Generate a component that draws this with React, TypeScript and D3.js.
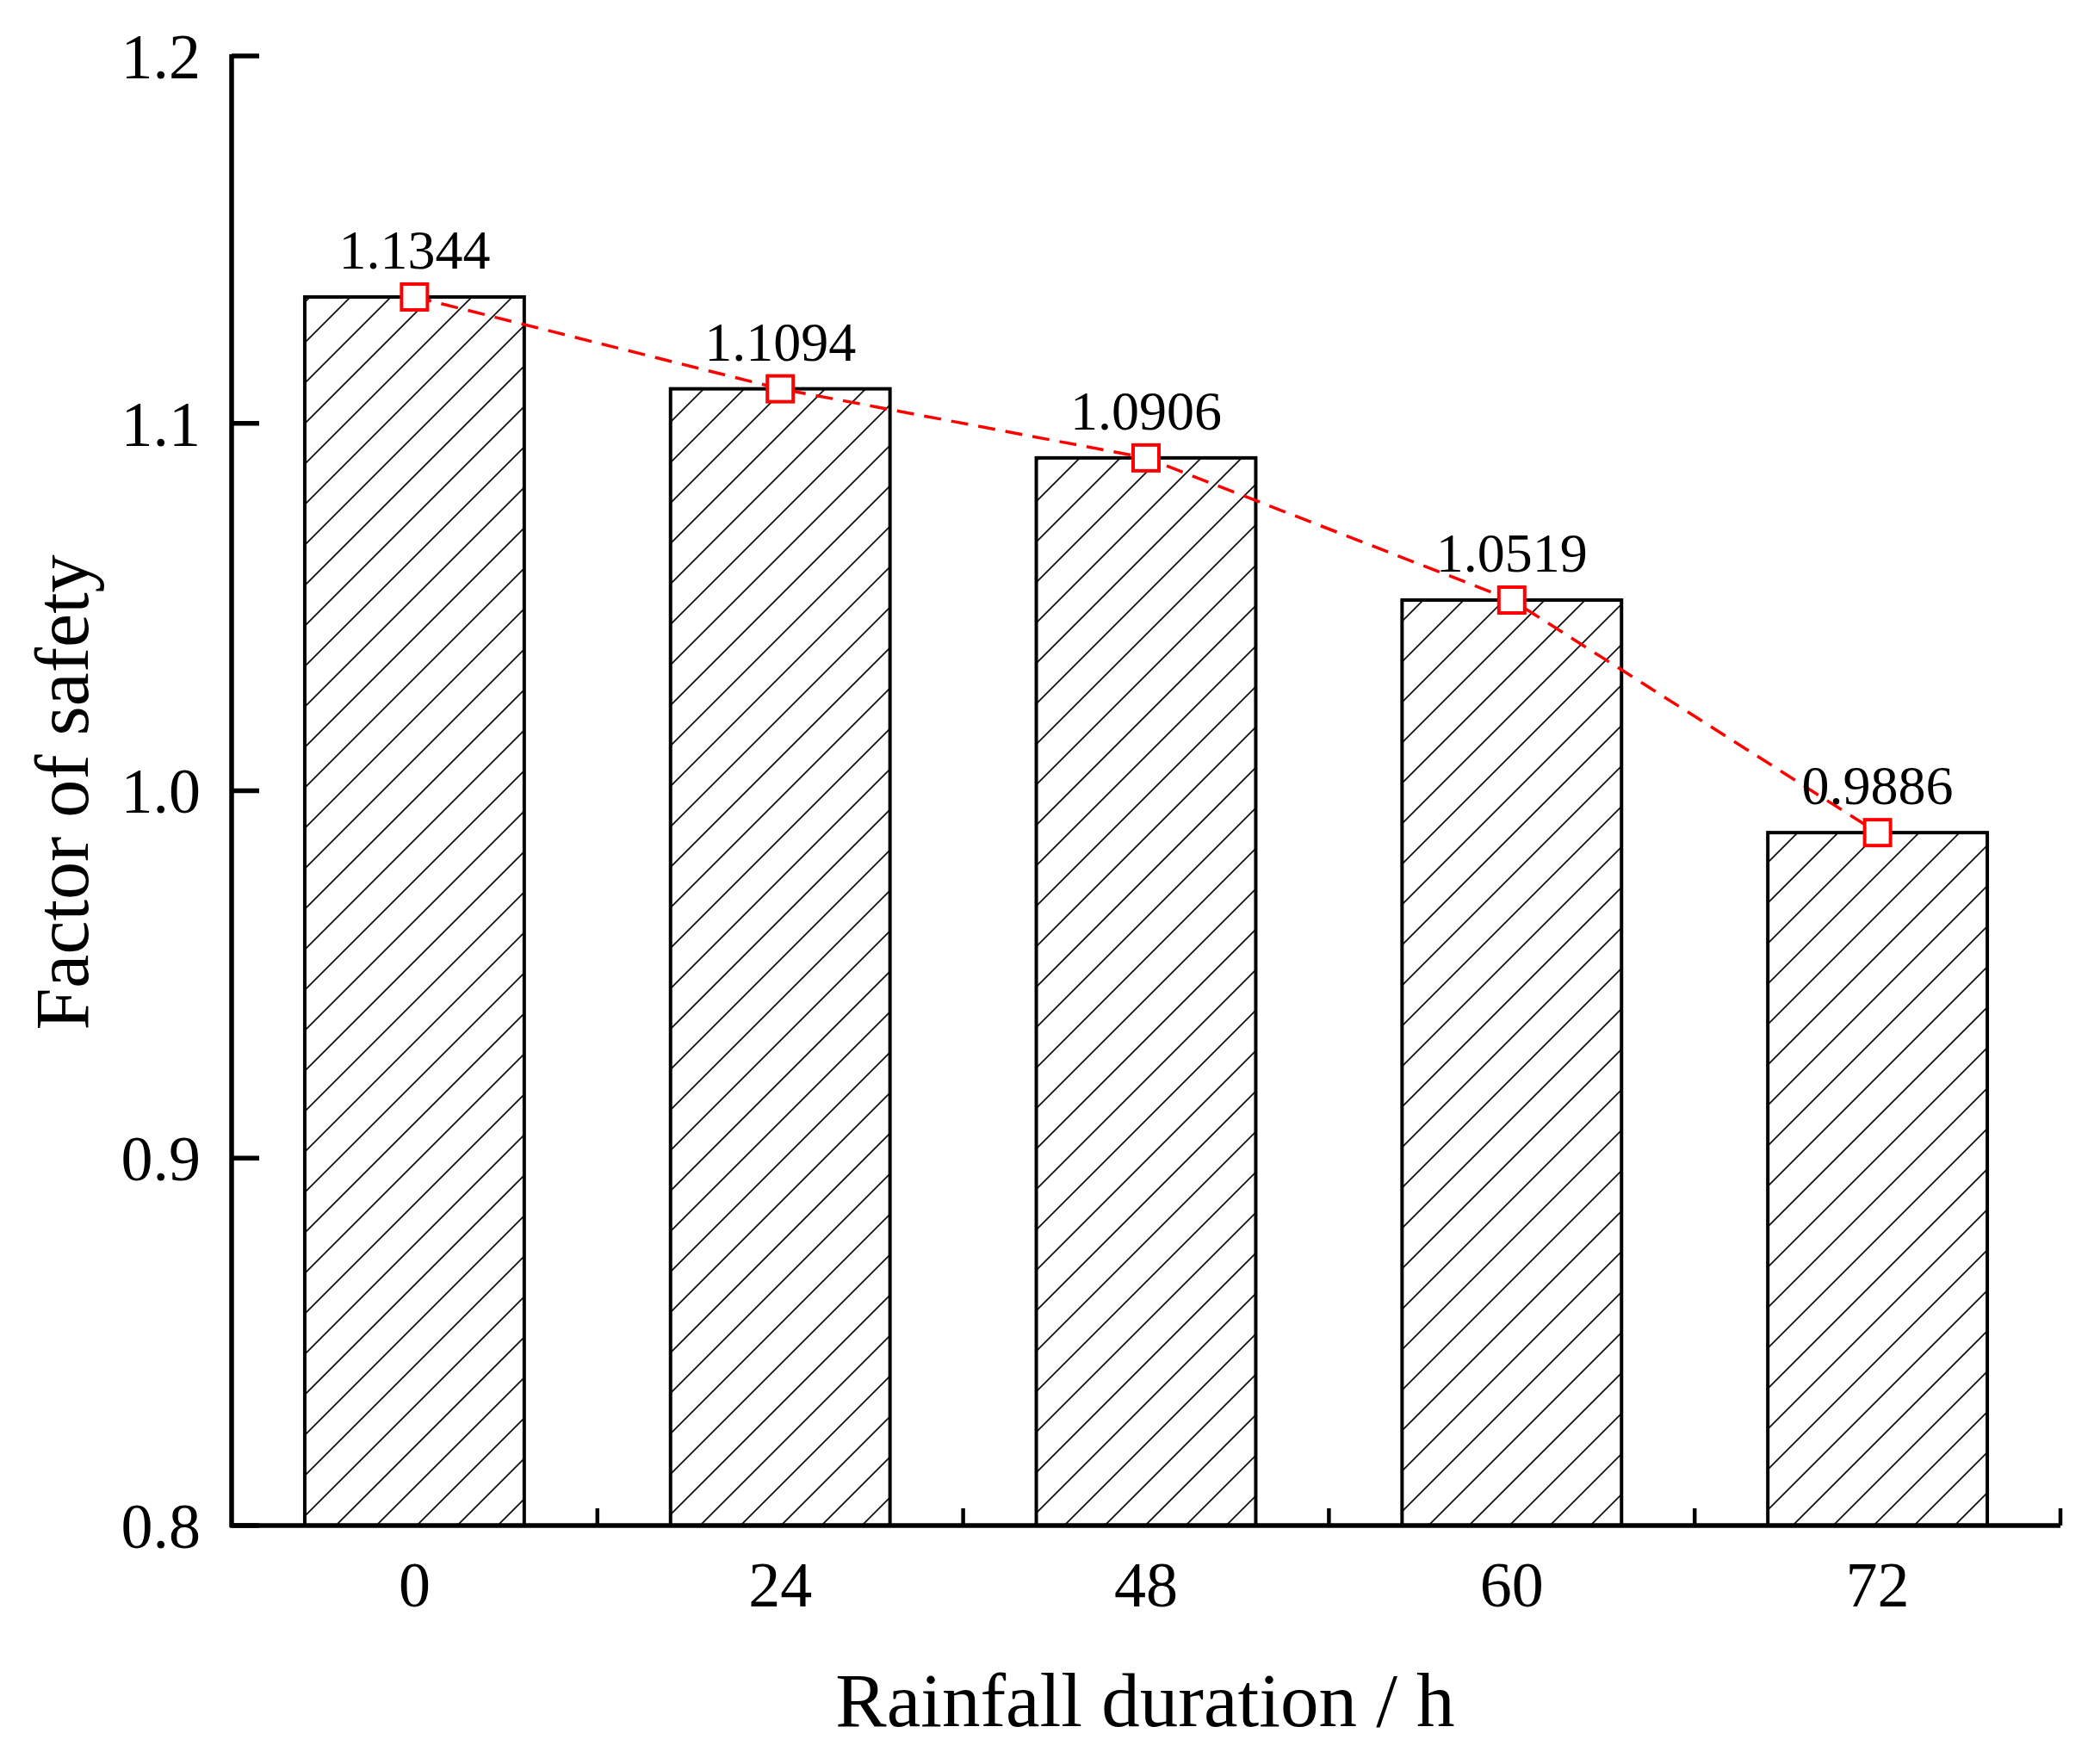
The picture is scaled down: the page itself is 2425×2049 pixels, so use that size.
import { useEffect, useRef } from 'react';
import * as d3 from 'd3';

const categories = ['0', '24', '48', '60', '72'];
const safetyFactors = [1.1344, 1.1094, 1.0906, 1.0519, 0.9886];
const valueLabels = ['1.1344', '1.1094', '1.0906', '1.0519', '0.9886'];
const yTicks = [0.8, 0.9, 1.0, 1.1, 1.2];

const W = 2425, H = 2049;
const FONT = '"Liberation Serif", "DejaVu Serif", serif';

export default function App() {
  const svgRef = useRef<SVGSVGElement>(null);

  useEffect(() => {
    if (!svgRef.current) return;
    const PAD = { l: 269, r: 2393, t: 65, b: 1772 };
    const svg = d3.select(svgRef.current);
    svg.selectAll('*').remove();

    const x = d3.scaleBand().domain(categories).range([PAD.l, PAD.r]).paddingInner(0.4).paddingOuter(0.2);
    const y = d3.scaleLinear().domain([0.8, 1.2]).range([PAD.b, PAD.t]);

    // hatch pattern
    const defs = svg.append('defs');
    const pat = defs.append('pattern').attr('id', 'hatch').attr('patternUnits', 'userSpaceOnUse')
      .attr('width', 47).attr('height', 47);
    pat.append('path').attr('d', 'M0,47 L47,0 M-10,10 L10,-10 M37,57 L57,37')
      .attr('stroke', '#111').attr('stroke-width', 1.8);

    // bars
    categories.forEach((c, i) => {
      svg.append('rect')
        .attr('x', x(c)!).attr('y', y(safetyFactors[i]))
        .attr('width', x.bandwidth()).attr('height', y(0.8) - y(safetyFactors[i]))
        .attr('fill', 'url(#hatch)').attr('stroke', '#000').attr('stroke-width', 4);
    });

    // axes
    svg.append('line').attr('x1', PAD.l).attr('x2', PAD.l).attr('y1', PAD.t - 2).attr('y2', PAD.b + 2)
      .attr('stroke', '#000').attr('stroke-width', 5.5);
    svg.append('line').attr('x1', PAD.l - 2).attr('x2', PAD.r).attr('y1', PAD.b).attr('y2', PAD.b)
      .attr('stroke', '#000').attr('stroke-width', 5.5);

    yTicks.forEach(t => {
      svg.append('line').attr('x1', PAD.l).attr('x2', PAD.l + 32).attr('y1', y(t)).attr('y2', y(t))
        .attr('stroke', '#000').attr('stroke-width', 5.5);
      svg.append('text').attr('x', 233).attr('y', y(t)).attr('dy', '0.35em')
        .attr('text-anchor', 'end').attr('font-family', FONT).attr('font-size', 74).text(t.toFixed(1));
    });

    const step = x.step();
    d3.range(1, categories.length + 1).forEach(k => {
      const bx = PAD.l + k * step;
      svg.append('line').attr('x1', bx).attr('x2', bx).attr('y1', PAD.b).attr('y2', PAD.b - 20)
        .attr('stroke', '#000').attr('stroke-width', 4.5);
    });

    categories.forEach(c => {
      svg.append('text').attr('x', x(c)! + x.bandwidth() / 2).attr('y', 1866)
        .attr('text-anchor', 'middle').attr('font-family', FONT).attr('font-size', 74).text(c);
    });

    // dashed line + markers
    const pts: [number, number][] = categories.map((c, i) => [x(c)! + x.bandwidth() / 2, y(safetyFactors[i])]);
    svg.append('path').attr('d', d3.line()(pts)!).attr('fill', 'none')
      .attr('stroke', '#ff0000').attr('stroke-width', 3.5).attr('stroke-dasharray', '20,12');
    pts.forEach(([px, py], i) => {
      svg.append('rect').attr('x', px - 15).attr('y', py - 15).attr('width', 30).attr('height', 30)
        .attr('fill', '#fff').attr('stroke', '#ff0000').attr('stroke-width', 4);
      svg.append('text').attr('x', px).attr('y', py - 33)
        .attr('text-anchor', 'middle').attr('font-family', FONT).attr('font-size', 64).text(valueLabels[i]);
    });

    // titles
    svg.append('text').attr('x', 1330).attr('y', 2005)
      .attr('text-anchor', 'middle').attr('font-family', FONT).attr('font-size', 89).text('Rainfall duration / h');
    svg.append('text').attr('transform', `translate(102,${(PAD.t + PAD.b) / 2 + 2}) rotate(-90)`)
      .attr('text-anchor', 'middle').attr('font-family', FONT).attr('font-size', 88).text('Factor of safety');
  }, []);

  return (
    <div style={{ position: 'absolute', left: 0, top: 0, background: '#fff' }}>
      <svg ref={svgRef} width={W} height={H} viewBox={`0 0 ${W} ${H}`} style={{ display: 'block' }} />
    </div>
  );
}
